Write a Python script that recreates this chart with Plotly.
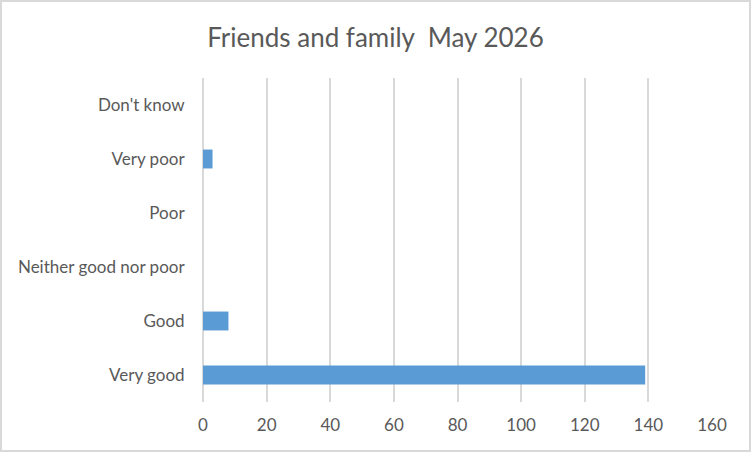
import plotly.graph_objects as go

# survey responses, bottom to top as drawn
categories = ["Very good", "Good", "Neither good nor poor", "Poor", "Very poor", "Don't know"]
counts = [139, 8, 0, 0, 3, 0]
x_ticks = [0, 20, 40, 60, 80, 100, 120, 140, 160]

W, H = 751, 452
L, R, T, B = 203, 39, 78, 50
pw, ph = W - L - R, H - T - B

fig = go.Figure(
    go.Bar(
        x=counts, y=categories, orientation="h",
        marker=dict(color="#5B9BD5", line=dict(width=0)),
    )
)

fig.update_layout(
    width=W, height=H,
    margin=dict(l=L, r=R, t=T, b=B, autoexpand=False),
    paper_bgcolor="white", plot_bgcolor="white",
    font=dict(family="Lato, Open Sans, sans-serif", color="#595959", size=17),
    title=dict(text="Friends and family  May 2026", x=0.5, xref="container",
               y=1 - 38 / H, yanchor="middle", xanchor="center",
               font=dict(size=26, color="#595959")),
    bargap=0.65,
    showlegend=False,
)

fig.update_xaxes(
    range=[0, 160], tickvals=x_ticks, showgrid=True, gridcolor="#d9d9d9", gridwidth=2,
    zeroline=True, zerolinecolor="#d9d9d9", zerolinewidth=2,
    showline=False, ticks="outside", ticklen=8, tickcolor="rgba(0,0,0,0)",
    tickfont=dict(size=17, color="#595959"),
)
fig.update_yaxes(
    categoryorder="array", categoryarray=categories, showgrid=False, zeroline=False,
    showline=False, ticks="outside", ticklen=14, tickcolor="rgba(0,0,0,0)",
    tickfont=dict(size=17, color="#595959"),
)

# outer chart border
fig.add_shape(
    type="rect", xref="paper", yref="paper",
    x0=-(L - 1) / pw, x1=1 + (R - 1) / pw, y0=-(B - 1) / ph, y1=1 + (T - 1) / ph,
    line=dict(color="#d9d9d9", width=2), fillcolor="rgba(0,0,0,0)", layer="below",
)

# drop the browser's default body margin so the chart sits at the window corner
fig.write_html("out.html", config={"displayModeBar": False},
               post_script="document.body.style.margin='0';")
